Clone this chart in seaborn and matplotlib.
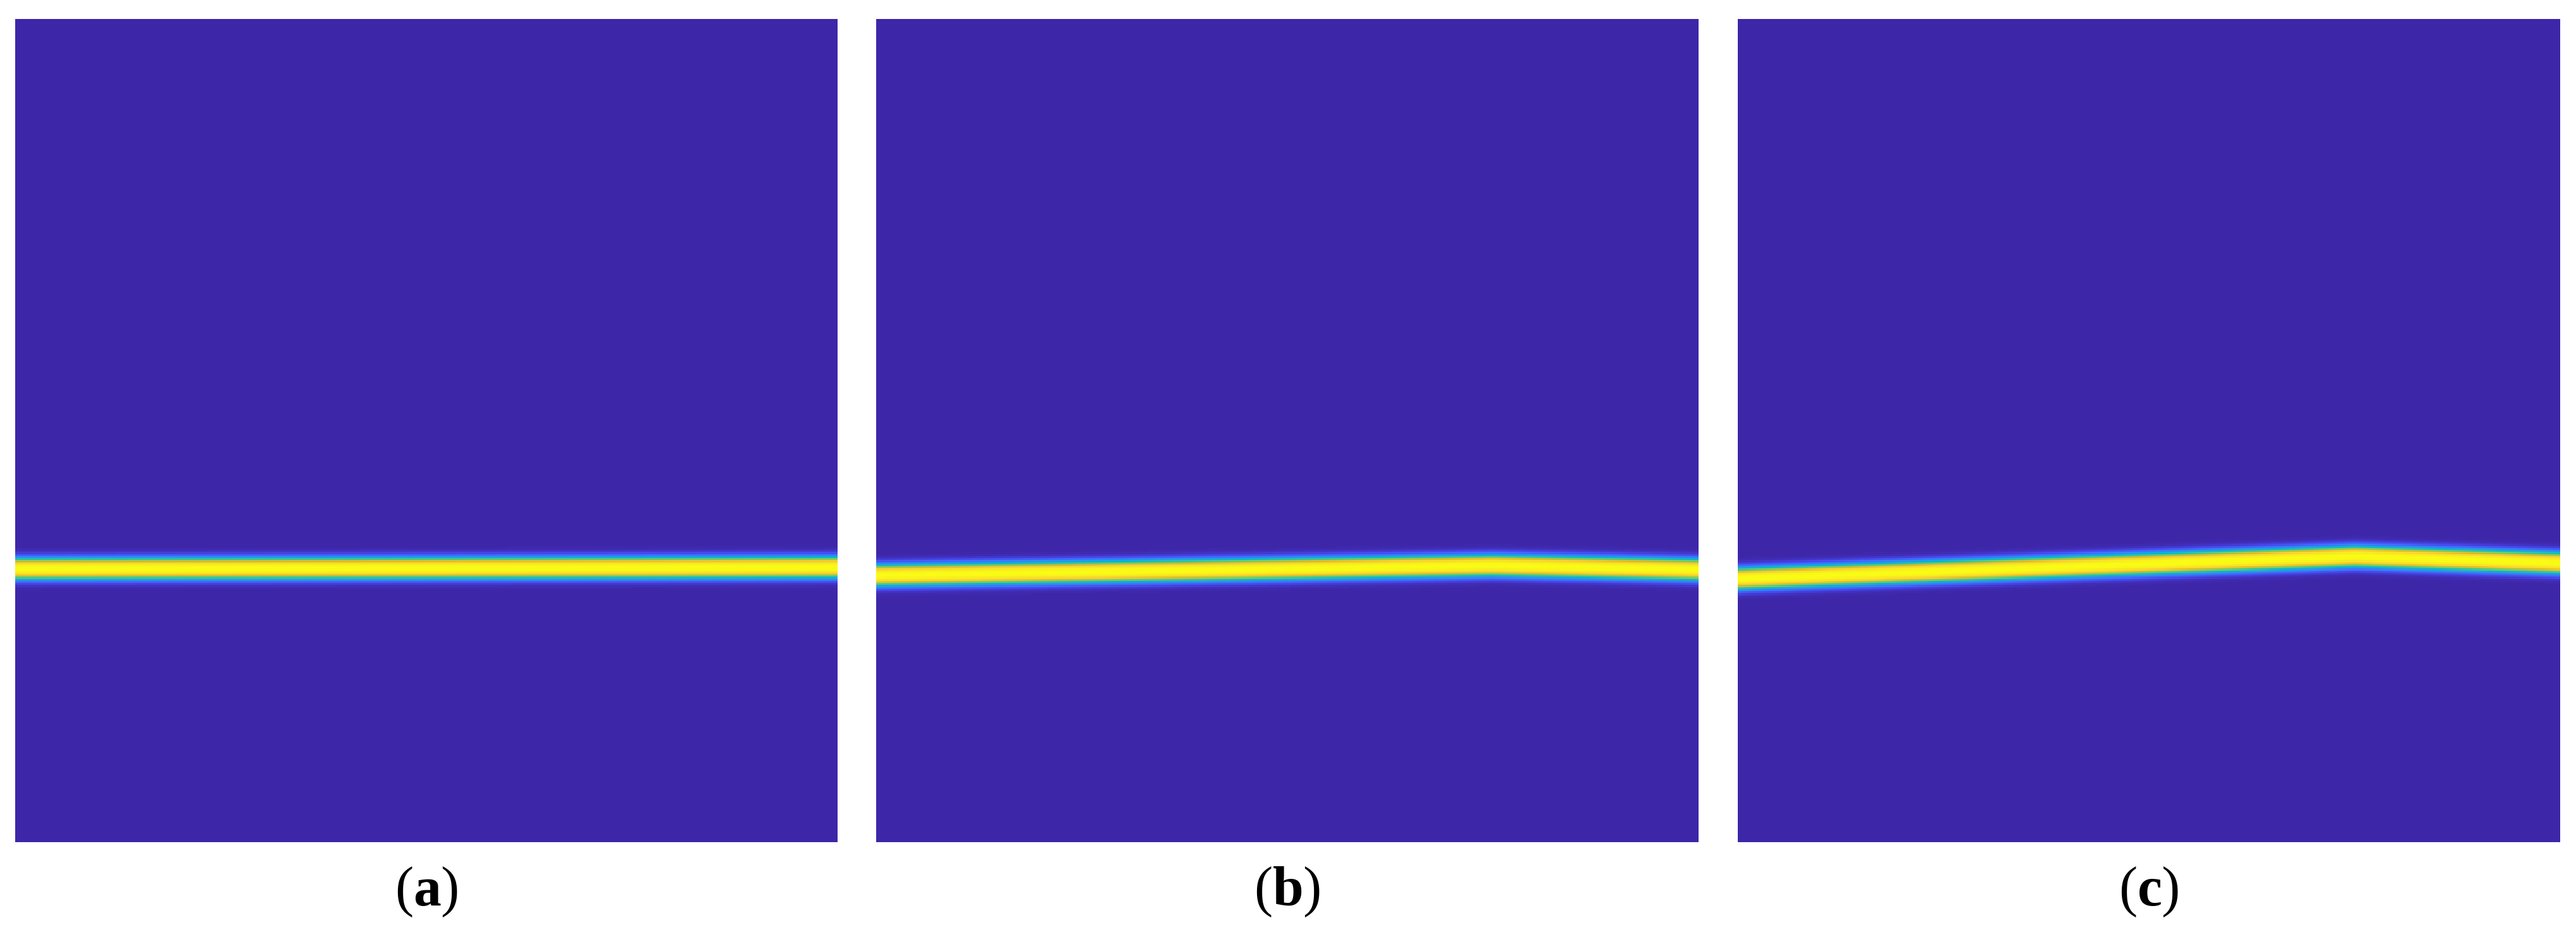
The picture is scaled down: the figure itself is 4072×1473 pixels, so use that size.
import numpy as np
import pandas as pd
import matplotlib
matplotlib.use("Agg")
import matplotlib.pyplot as plt
from matplotlib.colors import LinearSegmentedColormap
import seaborn as sns

# ---- data: ridge path (fraction of width -> fraction of height from top) ----
path_x = [0.0, 0.75, 1.0]
ridge_a = [0.668, 0.6668, 0.6662]
ridge_b = [0.676, 0.664, 0.669]
ridge_c = [0.680, 0.653, 0.661]
panel_labels = ["a", "b", "c"]
tick_fracs = [0.148, 0.298, 0.448, 0.598, 0.748, 0.898]

# ---- parula-like colormap ----
parula_pts = [
    (0.00, (0.2422, 0.1504, 0.6603)),
    (0.10, (0.2803, 0.2782, 0.9221)),
    (0.20, (0.2440, 0.4358, 0.9988)),
    (0.30, (0.1540, 0.5902, 0.9218)),
    (0.40, (0.0297, 0.7082, 0.8163)),
    (0.50, (0.1938, 0.7758, 0.6251)),
    (0.60, (0.5044, 0.7993, 0.3480)),
    (0.70, (0.8634, 0.7406, 0.1596)),
    (0.80, (0.9892, 0.8136, 0.1885)),
    (0.90, (0.9650, 0.9050, 0.1400)),
    (1.00, (0.9769, 0.9839, 0.0805)),
]
parula = LinearSegmentedColormap.from_list("parula", parula_pts)

N = 400
half_width = 0.013   # ridge half-width (fraction of panel height)


def ridge_image(path_y):
    cols = (np.arange(N) + 0.5) / N
    rows = (np.arange(N) + 0.5) / N
    centre = np.interp(cols, path_x, path_y)
    d = np.abs(rows[:, None] - centre[None, :]) / half_width
    z = np.exp(-d ** 2.5)
    return pd.DataFrame(z)


sns.set_theme(style="white")
plt.rcParams["mathtext.fontset"] = "custom"
plt.rcParams["mathtext.rm"] = "Liberation Serif"
plt.rcParams["mathtext.bf"] = "Liberation Serif:bold"

W, H = 4073, 1473
fig = plt.figure(figsize=(W / 100, H / 100), dpi=100)
fig.patch.set_facecolor("white")

lefts = [24, 1385, 2747]
top, bottom = 30, 1331
pw = 1300
for left, ridge, lab in zip(lefts, [ridge_a, ridge_b, ridge_c], panel_labels):
    ax = fig.add_axes([left / W, (H - bottom) / H, pw / W, (bottom - top) / H])
    sns.heatmap(ridge_image(ridge), ax=ax, cmap=parula, vmin=0, vmax=1,
                cbar=False, xticklabels=False, yticklabels=False)
    ax.set_xticks([f * N for f in tick_fracs])
    ax.set_xticklabels([])
    ax.set_yticks([])
    ax.tick_params(axis="x", direction="in", bottom=True, length=13, width=4,
                   color="#2a1f6e", labelbottom=False)
    for s in ax.spines.values():
        s.set_visible(False)
    ax.set_xlabel("")
    ax.set_ylabel("")
    fig.text((left + pw / 2) / W, (H - 1431) / H, r"$(\mathbf{" + lab + r"})$",
             ha="center", va="baseline", fontsize=63, color="black")

fig.savefig("out.png", dpi=100, facecolor="white")
